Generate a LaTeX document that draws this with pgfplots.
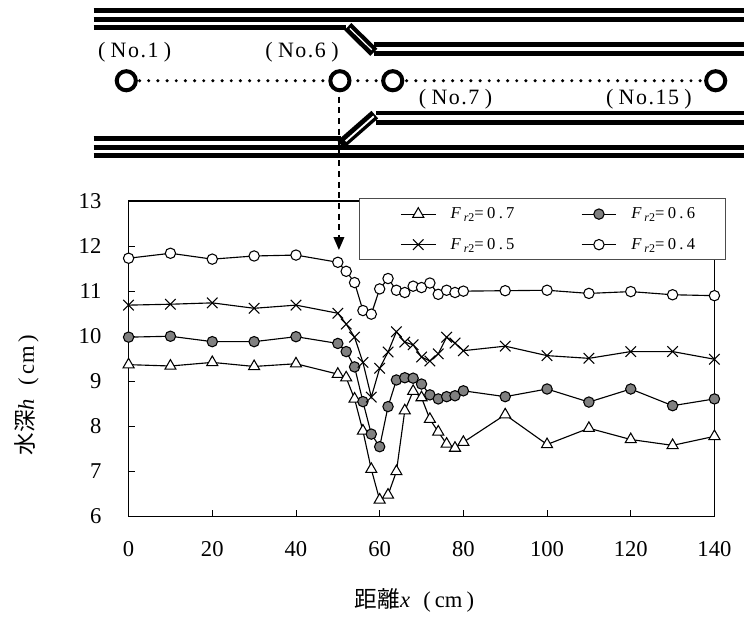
\documentclass[border=0pt]{standalone}
\usepackage{pgfplots}
\pgfplotsset{compat=1.18}
\usepackage{fontspec}
\setmainfont{Liberation Serif}
\newfontfamily\cjk{Noto Sans CJK JP}
\newfontfamily\lsf[LetterSpace=7]{Liberation Serif}
\newfontfamily\lsg[LetterSpace=20]{Liberation Serif}
\newcommand{\Fr}[1]{\textit{F}\,\raisebox{-2.5pt}{\fontsize{9}{10}\selectfont\textit{r}2}{\lsg =#1}}
\newcommand{\No}[1]{{\lsf(\hspace{4pt}No.#1\hspace{4pt})}}
\pgfplotstableread{
x h
0 9.37
10 9.34
20 9.42
30 9.33
40 9.39
50 9.16
52 9.08
54 8.61
56 7.90
58 7.05
60 6.37
62 6.48
64 7.00
66 8.35
68 8.78
70 8.64
72 8.16
74 7.88
76 7.61
78 7.52
80 7.65
90 8.26
100 7.60
110 7.96
120 7.71
130 7.58
140 7.78
}\datafa
\pgfplotstableread{
x h
0 9.98
10 10.00
20 9.88
30 9.88
40 9.99
50 9.84
52 9.66
54 9.32
56 8.55
58 7.83
60 7.55
62 8.44
64 9.03
66 9.08
68 9.07
70 8.94
72 8.70
74 8.61
76 8.66
78 8.68
80 8.79
90 8.66
100 8.83
110 8.54
120 8.83
130 8.46
140 8.61
}\datafb
\pgfplotstableread{
x h
0 10.69
10 10.71
20 10.74
30 10.62
40 10.69
50 10.51
52 10.27
54 9.98
56 9.42
58 8.65
60 9.29
62 9.65
64 10.10
66 9.87
68 9.81
70 9.54
72 9.45
74 9.61
76 9.98
78 9.85
80 9.68
90 9.78
100 9.57
110 9.51
120 9.66
130 9.66
140 9.49
}\datafc
\pgfplotstableread{
x h
0 11.73
10 11.84
20 11.71
30 11.78
40 11.80
50 11.64
52 11.44
54 11.19
56 10.57
58 10.49
60 11.05
62 11.28
64 11.02
66 10.97
68 11.11
70 11.08
72 11.18
74 10.93
76 11.02
78 10.97
80 11.00
90 11.01
100 11.02
110 10.95
120 10.99
130 10.92
140 10.90
}\datafd
\definecolor{markgray}{RGB}{128,128,128}
\begin{document}
\begin{tikzpicture}[x=0.75pt,y=-0.75pt]
\path (0,0) rectangle (746,616);
% channel
\begin{scope}[line width=3.6pt]
\draw (94,10.7) -- (746,10.7);
\draw (94,19.3) -- (746,19.3);
\draw (94,27.7) -- (347,27.7);
\draw (375,45) -- (746,45);
\draw (375,53.3) -- (746,53.3);
\draw (94,139) -- (342,139);
\draw (94,148.3) -- (746,148.3);
\draw (94,156.3) -- (746,156.3);
\draw (377,113.3) -- (746,113.3);
\draw (377,123) -- (746,123);
\draw[line width=7.6pt] (349,26.7) -- (375,52.5);
\draw[white,line width=0.9pt] (351,28.5) -- (373,50);
\draw[line width=7.6pt] (341.7,145) -- (376,115);
\draw[white,line width=1.4pt] (346.7,141.7) -- (375,116.7);
\end{scope}
\draw[line width=2.6pt,dash pattern=on 0pt off 6.9pt,line cap=round] (140,81) -- (328,81);
\draw[line width=2.6pt,dash pattern=on 0pt off 6.9pt,line cap=round] (359,81) -- (380,81);
\draw[line width=2.6pt,dash pattern=on 0pt off 6.9pt,line cap=round] (408,81) -- (706,81);
\foreach \cx in {126.7,341,394,718}{\draw[line width=3pt] (\cx,81) circle[radius=7.2pt];}
\node[font=\fontsize{16.5}{18}\selectfont] at (135,52.5) {\No{1}};
\node[font=\fontsize{16.5}{18}\selectfont] at (303,52.5) {\No{6}};
\node[font=\fontsize{16.5}{18}\selectfont] at (457,99.5) {\No{7}};
\node[font=\fontsize{16.5}{18}\selectfont] at (651,99.5) {\No{15}};
\begin{axis}[
  at={(96.75pt,-388.7pt)},anchor=south west,
  scale only axis,width=440.8pt,height=237.5pt,
  xmin=0,xmax=140,ymin=6,ymax=13,
  xtick={0,20,...,140},ytick={6,...,13},
  tick align=inside,xtick pos=bottom,ytick pos=left,
  major tick length=5pt,
  axis line style={line width=1.1pt},
  tick style={black,line width=0.6pt},
  clip=false,
  tick label style={font=\fontsize{17}{19}\selectfont},
  /pgf/number format/assume math mode=true,
  xticklabel style={yshift=-15pt},
  yticklabel style={xshift=-17pt},
  every axis plot/.append style={black,line width=0.85pt},
  xlabel={{\cjk 距離}\textit{x}\hspace{10pt}(\hspace{3pt}cm\hspace{3pt})},
  ylabel={{\cjk 水深}\textit{h}\hspace{10pt}(\hspace{3pt}cm\hspace{3pt})},
  label style={font=\fontsize{17}{19}\selectfont},
  xlabel style={at={(axis description cs:0.488,-0.267)},anchor=center},
  ylabel style={at={(axis description cs:-0.1736,0.385)},anchor=center},
  legend columns=2,
  legend cell align=left,
  legend style={at={(axis description cs:0.3926,1.0085)},anchor=north west,
    fill=white,draw=black!70,line width=0.8pt,
    font=\fontsize{12.5}{14}\selectfont,
    inner xsep=22.5pt,inner ysep=0pt,
    nodes={minimum height=23pt,inner sep=0pt,anchor=west},
    /tikz/every even column/.append style={column sep=41.5pt},
    /tikz/every odd column/.append style={column sep=11pt}},
  legend image code/.code={
    \path[draw=none] (0pt,0pt) -- (35pt,0pt);
    \draw[mark repeat=2,mark phase=2,#1] plot coordinates {(9pt,0pt) (22pt,0pt) (35pt,0pt)};},
]
\addplot[mark=triangle*,mark size=4.8pt,mark options={fill=white,line width=0.8pt}] table[x=x,y=h] {\datafa};
\addlegendentry{\Fr{0.7}}
\addplot[mark=*,mark size=3.9pt,mark options={fill=markgray,line width=0.8pt}] table[x=x,y=h] {\datafb};
\addlegendentry{\Fr{0.6}}
\addplot[mark=x,mark size=5.6pt,mark options={line width=0.8pt}] table[x=x,y=h] {\datafc};
\addlegendentry{\Fr{0.5}}
\addplot[mark=*,mark size=3.9pt,mark options={fill=white,line width=0.8pt}] table[x=x,y=h] {\datafd};
\addlegendentry{\Fr{0.4}}
\end{axis}
\draw[line width=1.2pt,dash pattern=on 4.5pt off 3.5pt] (340,97) -- (340,238);
\fill (334.5,238) -- (345.5,238) -- (340,250.7) -- cycle;
\end{tikzpicture}
\end{document}
